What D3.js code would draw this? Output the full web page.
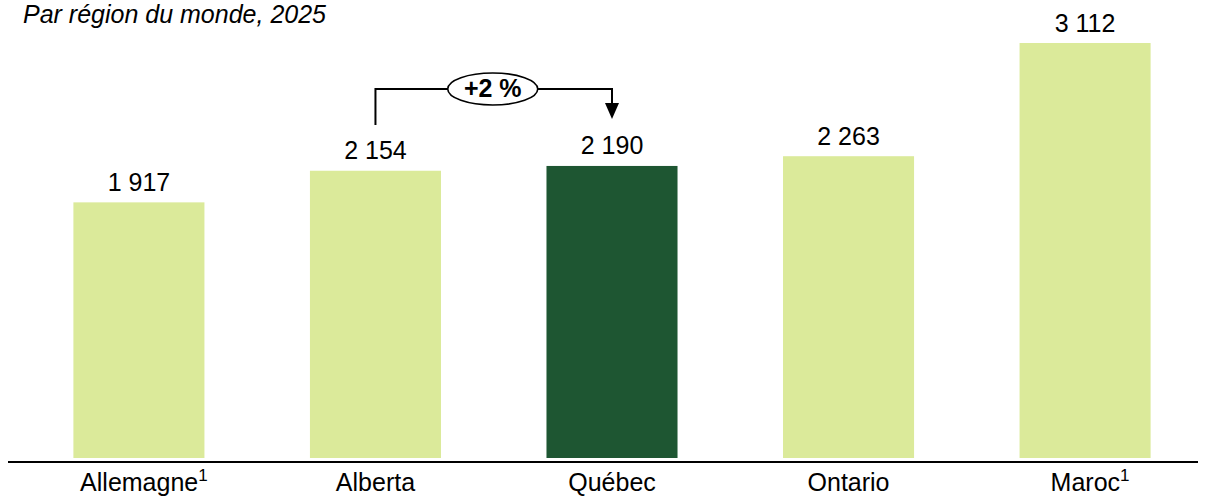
<!DOCTYPE html>
<html><head><meta charset="utf-8">
<script src="https://cdn.jsdelivr.net/npm/d3@7"></script>
<style>body{margin:0;background:#fff}svg{display:block;font-family:Arial,"Liberation Sans",sans-serif}</style>
</head><body><svg id="c" width="1206" height="496"></svg>
<script>
const categories = ["Allemagne", "Alberta", "Québec", "Ontario", "Maroc"];
const superscripts = ["1", "", "", "", "1"];
const values = [1917, 2154, 2190, 2263, 3112];
const highlight = ["Québec"];
const titleText = "Par région du monde, 2025";
const annotation = {from: "Alberta", to: "Québec", label: "+2 %"};

const svg = d3.select("#c");
const baseY = 458;
const x = d3.scaleBand().domain(categories).range([19, 1205]).paddingInner(0.446).paddingOuter(0.23);
const y = d3.scaleLinear().domain([0, 3112]).range([baseY, 43]);
const fmt = v => d3.format(",")(v).replace(/,/g, " ");

svg.append("text").attr("x", 23).attr("y", 23).attr("font-size", 25).attr("font-style", "italic").text(titleText);

svg.selectAll("rect.bar").data(categories).join("rect")
  .attr("x", d => x(d)).attr("width", x.bandwidth())
  .attr("y", (d, i) => y(values[i])).attr("height", (d, i) => baseY - y(values[i]))
  .attr("fill", d => highlight.includes(d) ? "#1e5632" : "#dbea9a");

svg.selectAll("text.val").data(categories).join("text")
  .attr("x", d => x(d) + x.bandwidth() / 2).attr("y", (d, i) => y(values[i]) - 11.5)
  .attr("text-anchor", "middle").attr("font-size", 25).attr("fill", "#000")
  .text((d, i) => fmt(values[i]));

svg.append("line").attr("x1", 8).attr("x2", 1198).attr("y1", 462).attr("y2", 462)
  .attr("stroke", "#000").attr("stroke-width", 2.2);

const cl = svg.selectAll("text.cat").data(categories).join("text")
  .attr("x", (d, i) => x(d) + x.bandwidth() / 2 + (superscripts[i] ? 5 : 0)).attr("y", 491)
  .attr("text-anchor", "middle").attr("font-size", 25);
cl.append("tspan").text(d => d);
cl.append("tspan").attr("font-size", 17).attr("dy", -10).text((d, i) => superscripts[i]);

// annotation
const x1 = x(annotation.from) + x.bandwidth() / 2, x2 = x(annotation.to) + x.bandwidth() / 2;
const ay = 89;
svg.append("path").attr("d", `M${x1},125 V${ay} H${x2} V104`).attr("fill", "none").attr("stroke", "#000").attr("stroke-width", 2);
svg.append("path").attr("d", `M${x2 - 7},103 L${x2 + 7},103 L${x2},119 Z`).attr("fill", "#000");
const ex = (x1 + x2) / 2 - 1;
svg.append("ellipse").attr("cx", ex).attr("cy", ay).attr("rx", 45).attr("ry", 16).attr("fill", "#fff").attr("stroke", "#000").attr("stroke-width", 1.6);
svg.append("text").attr("x", ex).attr("y", 97).attr("text-anchor", "middle").attr("font-size", 25).attr("font-weight", "bold").text(annotation.label);
</script></body></html>
